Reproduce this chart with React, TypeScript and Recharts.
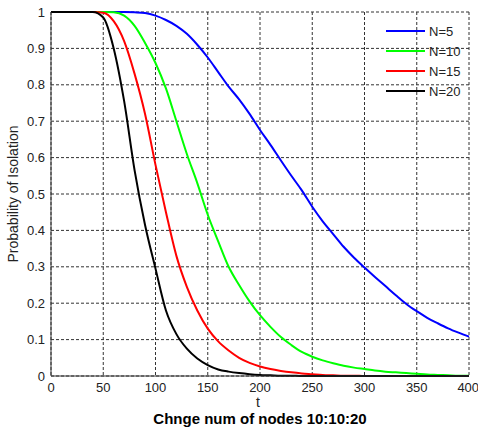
import { CartesianGrid, Label, Legend, Line, LineChart, XAxis, YAxis } from "recharts";

const tValues = [
  0, 10, 20, 30, 40, 50, 60, 70, 80, 90, 100, 110, 120, 130, 140, 150, 160, 170, 180, 190, 200,
  210, 220, 230, 240, 250, 260, 270, 280, 290, 300, 310, 320, 330, 340, 350, 360, 370, 380, 390, 400,
];

const n5 = [
  1, 1, 1, 1, 1, 1, 1, 1, 0.999, 0.997, 0.99, 0.978, 0.962, 0.94, 0.91, 0.875, 0.835, 0.795, 0.76,
  0.72, 0.676, 0.635, 0.592, 0.55, 0.51, 0.465, 0.425, 0.39, 0.355, 0.325, 0.298, 0.272, 0.247,
  0.222, 0.198, 0.178, 0.16, 0.145, 0.131, 0.119, 0.108,
];

const n10 = [
  1, 1, 1, 1, 1, 1, 0.999, 0.99, 0.962, 0.915, 0.86, 0.79, 0.7, 0.61, 0.53, 0.443, 0.37, 0.3,
  0.25, 0.205, 0.167, 0.135, 0.107, 0.085, 0.066, 0.053, 0.043, 0.035, 0.028, 0.023, 0.019, 0.015,
  0.012, 0.01, 0.008, 0.006, 0.004, 0.003, 0.002, 0.001, 0.001,
];

const n15 = [
  1, 1, 1, 1, 1, 0.998, 0.975, 0.92, 0.83, 0.72, 0.58, 0.45, 0.33, 0.245, 0.18, 0.13, 0.095, 0.07,
  0.05, 0.036, 0.026, 0.019, 0.014, 0.01, 0.007, 0.005, 0.003, 0.002, 0.001, 0.001, 0, 0, 0, 0, 0,
  0, 0, 0, 0, 0, 0,
];

const n20 = [
  1, 1, 1, 1, 1, 0.985, 0.9, 0.755, 0.565, 0.415, 0.295, 0.18, 0.115, 0.075, 0.048, 0.03, 0.018,
  0.012, 0.008, 0.005, 0.003, 0.002, 0.001, 0.001, 0, 0, 0, 0, 0, 0, 0, 0, 0, 0, 0, 0, 0, 0, 0, 0, 0,
];

const xTicks = [0, 50, 100, 150, 200, 250, 300, 350, 400];
const yTicks = [0, 0.1, 0.2, 0.3, 0.4, 0.5, 0.6, 0.7, 0.8, 0.9, 1];

const series = [
  { key: "n5", name: "N=5", color: "#0000ff" },
  { key: "n10", name: "N=10", color: "#00ff00" },
  { key: "n15", name: "N=15", color: "#ff0000" },
  { key: "n20", name: "N=20", color: "#000000" },
];

const data = tValues.map((t, i) => ({ t, n5: n5[i], n10: n10[i], n15: n15[i], n20: n20[i] }));

const tickStyle = {
  fontSize: 13,
  fill: "#222",
  fontFamily: "'Liberation Sans Narrow', 'Arial Narrow', 'Liberation Sans', Arial, sans-serif",
};

function LegendBox() {
  return (
    <div style={{ fontFamily: "'Liberation Sans', Arial, sans-serif", fontSize: 13, color: "#222" }}>
      {series.map((s) => (
        <div key={s.key} style={{ display: "flex", alignItems: "center", height: 20 }}>
          <svg width={43} height={4}>
            <line x1={0} y1={2} x2={39} y2={2} stroke={s.color} strokeWidth={2} />
          </svg>
          <span>{s.name}</span>
        </div>
      ))}
    </div>
  );
}

export default function App() {
  return (
    <div style={{ position: "absolute", left: 0, top: 0, background: "#fff" }}>
      <LineChart width={478} height={431} data={data} margin={{ top: 12, right: 9, bottom: 0, left: 0 }}>
        <CartesianGrid stroke="#333" strokeDasharray="3 2" />
        <XAxis
          dataKey="t"
          type="number"
          domain={[0, 400]}
          ticks={xTicks}
          height={55}
          tickLine={false}
          tickSize={5}
          tickMargin={2}
          stroke="#333"
          tick={tickStyle}
        >
          <Label
            value="t"
            position="insideTop"
            offset={21}
            dx={-2}
            style={{ fontSize: 14, fill: "#222", fontFamily: "'Liberation Sans', Arial, sans-serif" }}
          />
          <Label
            value="Chnge num of nodes 10:10:20"
            position="insideTop"
            offset={37}
            dx={0}
            style={{ fontSize: 15, fontWeight: "bold", fill: "#000", fontFamily: "'Liberation Sans', Arial, sans-serif" }}
          />
        </XAxis>
        <YAxis
          type="number"
          domain={[0, 1]}
          ticks={yTicks}
          width={51}
          tickLine={false}
          tickSize={4}
          tickMargin={2}
          stroke="#333"
          tick={tickStyle}
          interval={0}
        >
          <Label
            value="Probability of Isolation"
            angle={-90}
            position="center"
            dx={-12}
            style={{ fontSize: 14, fill: "#222", fontFamily: "'Liberation Sans', Arial, sans-serif" }}
          />
        </YAxis>
        <Legend
          layout="vertical"
          verticalAlign="middle"
          align="center"
          wrapperStyle={{ top: 21, left: 386, width: 80 }}
          content={<LegendBox />}
        />
        {series.map((s) => (
          <Line
            key={s.key}
            type="monotone"
            dataKey={s.key}
            name={s.name}
            stroke={s.color}
            strokeWidth={2}
            dot={false}
            isAnimationActive={false}
          />
        ))}
      </LineChart>
    </div>
  );
}
